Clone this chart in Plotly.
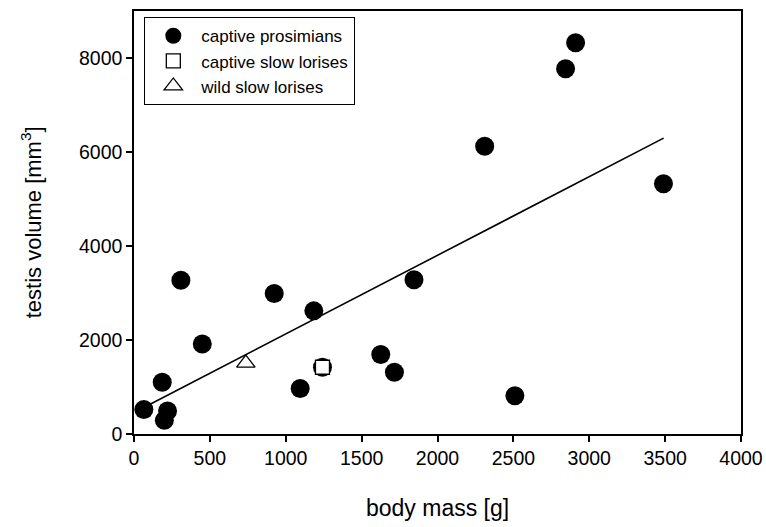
import plotly.graph_objects as go

# captive prosimians
pros_mass = [65, 186, 221, 200, 309, 450, 924, 1095, 1185, 1242, 1626, 1716, 1845, 2311, 2510, 2844, 2910, 3489]
pros_vol = [520, 1100, 490, 290, 3270, 1915, 2990, 970, 2620, 1420, 1690, 1315, 3280, 6121, 815, 7770, 8323, 5326]

# captive slow lorises
csl_mass = [1242]
csl_vol = [1420]

# wild slow lorises
wsl_mass = [737]
wsl_vol = [1510]

# regression line endpoints
fit_mass = [65, 3490]
fit_vol = [565, 6295]

FONT = "Arial, Liberation Sans, Helvetica, sans-serif"

fig = go.Figure()
fig.add_trace(go.Scatter(x=fit_mass, y=fit_vol, mode="lines",
                         line=dict(color="black", width=1.6), showlegend=False))
fig.add_trace(go.Scatter(x=pros_mass, y=pros_vol, mode="markers", name="captive prosimians",
                         marker=dict(symbol="circle", size=19, color="black")))
fig.add_trace(go.Scatter(x=csl_mass, y=csl_vol, mode="markers", name="captive slow lorises",
                         marker=dict(symbol="square", size=14, color="white",
                                     line=dict(color="black", width=1.3))))
fig.add_trace(go.Scatter(x=wsl_mass, y=wsl_vol, mode="markers", name="wild slow lorises",
                         marker=dict(symbol="triangle-up", size=16, color="white",
                                     line=dict(color="black", width=1.3))))

axis_common = dict(showgrid=False, zeroline=False, showline=True, linecolor="black",
                   linewidth=1.5, mirror=True, ticks="outside", ticklen=6, tickwidth=1.5,
                   tickcolor="black", automargin=False,
                   tickfont=dict(family=FONT, size=19.5, color="black"))

fig.update_xaxes(range=[0, 4000], tickvals=[0, 500, 1000, 1500, 2000, 2500, 3000, 3500, 4000],
                 **axis_common)
fig.update_yaxes(range=[0, 9000], tickvals=[0, 2000, 4000, 6000, 8000], **axis_common)

fig.add_annotation(text="body mass [g]", xref="paper", yref="paper", x=0.5, y=-0.175,
                   xanchor="center", yanchor="middle", showarrow=False,
                   font=dict(family=FONT, size=23, color="black"))
fig.add_annotation(text="testis volume [mm<sup>3</sup>]", xref="paper", yref="paper",
                   x=-0.17, y=0.5, xanchor="center", yanchor="middle", textangle=-90,
                   showarrow=False, font=dict(family=FONT, size=22, color="black"))

fig.update_layout(
    width=766, height=527,
    margin=dict(l=134, r=25, t=11, b=93, autoexpand=False),
    paper_bgcolor="white", plot_bgcolor="white",
    font=dict(family=FONT, color="black"),
    hovermode=False,
    legend=dict(x=0.0165, y=0.986, xanchor="left", yanchor="top",
                bordercolor="black", borderwidth=1.3, bgcolor="white",
                font=dict(family=FONT, size=17, color="black"),
                itemwidth=46, itemsizing="trace", tracegroupgap=0),
)

fig.write_html("out.html", config={"displayModeBar": False},
               post_script="document.body.style.margin='0px';document.body.style.padding='0px';")
